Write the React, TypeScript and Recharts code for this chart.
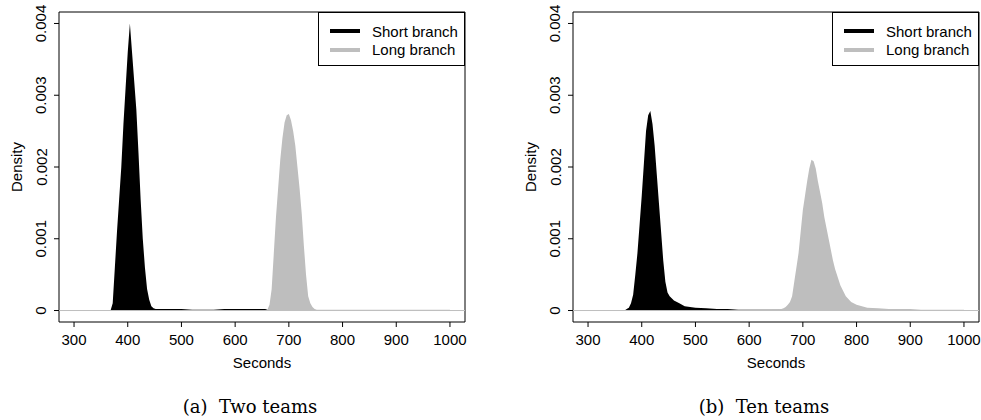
import React from 'react';
import { AreaChart, Area, XAxis, YAxis, ReferenceLine, ReferenceArea } from 'recharts';

// x grid (seconds), denser where the peaks are
const seconds = [
  368, 372, 376, 380, 384, 388, 392, 396, 400, 404, 408, 412, 416, 420, 424, 428, 432, 436, 440, 444, 448, 452,
  460, 470, 480,
  500, 520, 540, 560, 580, 600, 620, 640,
  656,
  660, 664, 668, 672, 676, 680, 684, 688, 692, 696, 700, 704, 708, 712, 716, 720, 724, 728, 732, 736, 740, 744, 748, 752, 756, 760,
  770, 780, 790, 800,
  820, 840, 860, 880, 900, 920, 940, 960, 980, 1000,
];

const twoTeamsShort = [
  0, 0.0001, 0.0006, 0.0011, 0.00155, 0.002, 0.0026, 0.0031, 0.0036, 0.004, 0.0036, 0.0032, 0.0028, 0.0022, 0.00155, 0.001, 0.0006, 0.0003, 0.00015, 0.00006, 0.00003, 0.00002,
  0.00002, 0.00002, 0.00002,
  0.00002, 0.00001, 0.00001, 0.00001, 0.00002, 0.00002, 0.00002, 0.00002,
  0.00002,
  0.00001, 0, 0, 0, 0, 0, 0, 0, 0, 0, 0, 0, 0, 0, 0, 0, 0, 0, 0, 0, 0, 0, 0, 0, 0, 0,
  0, 0, 0, 0,
  0, 0, 0, 0, 0, 0, 0, 0, 0, 0,
];

const twoTeamsLong = [
  0, 0, 0, 0, 0, 0, 0, 0, 0, 0, 0, 0, 0, 0, 0, 0, 0, 0, 0, 0, 0, 0,
  0, 0, 0,
  0, 0, 0, 0, 0, 0, 0, 0,
  0,
  0.00001, 0.00008, 0.0003, 0.0008, 0.0013, 0.0017, 0.0021, 0.0024, 0.00262, 0.00272, 0.00274, 0.00265, 0.0025, 0.0023, 0.002, 0.0017, 0.00135, 0.0009, 0.0005, 0.0002, 0.0001, 0.00005, 0.00002, 0.00001, 0.00001, 0.00001,
  0.00001, 0.00001, 0.00001, 0.00001,
  0.00001, 0.00001, 0.00001, 0.00001, 0.00001, 0.00001, 0.00001, 0.00001, 0.00001, 0.00001,
];

const tenTeamsShort = [
  0, 0.00002, 0.00004, 0.0001, 0.00022, 0.0005, 0.0008, 0.0012, 0.0016, 0.00205, 0.0025, 0.00272, 0.00278, 0.0026, 0.0023, 0.0019, 0.0015, 0.0011, 0.0007, 0.0004, 0.00025, 0.0002,
  0.00014, 0.0001, 0.00006,
  0.00004, 0.00003, 0.00002, 0.00002, 0.00001, 0.00001, 0.00001, 0.00001,
  0.00001,
  0.00001, 0, 0, 0, 0, 0, 0, 0, 0, 0, 0, 0, 0, 0, 0, 0, 0, 0, 0, 0, 0, 0, 0, 0, 0, 0,
  0, 0, 0, 0,
  0, 0, 0, 0, 0, 0, 0, 0, 0, 0,
];

const tenTeamsLong = [
  0, 0, 0, 0, 0, 0, 0, 0, 0, 0, 0, 0, 0, 0, 0, 0, 0, 0, 0, 0, 0, 0,
  0, 0, 0,
  0, 0, 0, 0, 0.00001, 0.00001, 0.00001, 0.00001,
  0.00002,
  0.00002, 0.00003, 0.00005, 0.00008, 0.00012, 0.0002, 0.0004, 0.0006, 0.0008, 0.0011, 0.0014, 0.0016, 0.0018, 0.00198, 0.0021, 0.00208, 0.00198, 0.0018, 0.00165, 0.0015, 0.0013, 0.00115, 0.001, 0.00085, 0.0007, 0.00058,
  0.00035, 0.0002, 0.00012, 0.00008,
  0.00004, 0.00003, 0.00002, 0.00002, 0.00002, 0.00001, 0.00001, 0.00001, 0.00001, 0.00001,
];

const xTicks = [300, 400, 500, 600, 700, 800, 900, 1000];
const yTicks = [0, 0.001, 0.002, 0.003, 0.004];
const seriesNames = ['Short branch', 'Long branch'];
const seriesColors = ['#000000', '#bebebe'];
const captions = ['(a)\u00a0\u00a0Two teams', '(b)\u00a0\u00a0Ten teams'];

const X_DOMAIN: [number, number] = [272, 1028];
const Y_DOMAIN: [number, number] = [-0.00016, 0.00416];
const SANS = '"Liberation Sans", Arial, Helvetica, sans-serif';

const YTick = ({ y, payload }: any) => (
  <text
    x={41}
    y={y}
    transform={`rotate(-90 41 ${y})`}
    textAnchor="middle"
    dominantBaseline="central"
    fontSize={15}
    fontFamily={SANS}
    fill="#000"
  >
    {payload.value === 0 ? '0' : payload.value.toFixed(3)}
  </text>
);

const XTick = ({ x, payload }: any) => (
  <text x={x} y={339} textAnchor="middle" dominantBaseline="central" fontSize={15} fontFamily={SANS} fill="#000">
    {payload.value}
  </text>
);

const Panel = ({ left, short, long, caption }: { left: number; short: number[]; long: number[]; caption: string }) => {
  const data = seconds.map((s, i) => ({ s, short: short[i], long: long[i] }));
  return (
    <div style={{ position: 'absolute', left, top: 0, width: 467, height: 420 }}>
      <AreaChart width={467} height={420} data={data} margin={{ top: 12, right: 2, bottom: 0, left: 0 }}>
        <XAxis
          dataKey="s"
          type="number"
          domain={X_DOMAIN}
          allowDataOverflow
          ticks={xTicks}
          height={98}
          axisLine={false}
          tickSize={5}
          tickLine={{ stroke: '#000' }}
          tick={<XTick />}
          interval={0}
        />
        <YAxis
          type="number"
          domain={Y_DOMAIN}
          allowDataOverflow
          ticks={yTicks}
          width={59}
          axisLine={false}
          tickSize={5}
          tickLine={{ stroke: '#000' }}
          tick={<YTick />}
          interval={0}
        />
        <ReferenceLine y={0} stroke="#bebebe" strokeWidth={1} />
        <Area
          type="linear"
          dataKey="short"
          name={seriesNames[0]}
          fill={seriesColors[0]}
          fillOpacity={1}
          stroke="none"
          dot={false}
          activeDot={false}
          isAnimationActive={false}
        />
        <Area
          type="linear"
          dataKey="long"
          name={seriesNames[1]}
          fill={seriesColors[1]}
          fillOpacity={1}
          stroke="none"
          dot={false}
          activeDot={false}
          isAnimationActive={false}
        />
        <ReferenceArea
          x1={X_DOMAIN[0]}
          x2={X_DOMAIN[1]}
          y1={Y_DOMAIN[0]}
          y2={Y_DOMAIN[1]}
          fill="none"
          stroke="#000"
          strokeWidth={1}
          fillOpacity={0}
        />
      </AreaChart>

      {/* legend, top-right corner of the box */}
      <div
        style={{
          position: 'absolute',
          left: 318,
          top: 12,
          width: 147,
          height: 54,
          boxSizing: 'border-box',
          border: '1px solid #000',
          background: '#fff',
          fontFamily: SANS,
          fontSize: 15,
        }}
      >
        {seriesNames.map((name, i) => (
          <div key={name} style={{ position: 'absolute', left: 11, top: 9 + i * 18.5, height: 18, display: 'flex', alignItems: 'center' }}>
            <span style={{ display: 'inline-block', width: 30, height: 4, background: seriesColors[i] }} />
            <span style={{ marginLeft: 12, color: '#000', whiteSpace: 'nowrap' }}>{name}</span>
          </div>
        ))}
      </div>

      <div
        style={{
          position: 'absolute',
          left: 16.7 - 40,
          top: 167 - 10,
          width: 80,
          height: 20,
          lineHeight: '20px',
          textAlign: 'center',
          transform: 'rotate(-90deg)',
          fontFamily: SANS,
          fontSize: 15,
        }}
      >
        Density
      </div>
      <div
        style={{
          position: 'absolute',
          left: 262 - 60,
          top: 363 - 10,
          width: 120,
          height: 20,
          lineHeight: '20px',
          textAlign: 'center',
          fontFamily: SANS,
          fontSize: 15,
        }}
      >
        Seconds
      </div>
      <div
        style={{
          position: 'absolute',
          left: 250 - 100,
          top: 407 - 12,
          width: 200,
          height: 24,
          lineHeight: '24px',
          textAlign: 'center',
          fontFamily: '"DejaVu Serif", "Liberation Serif", serif',
          fontSize: 18,
          whiteSpace: 'nowrap',
        }}
      >
        {caption}
      </div>
    </div>
  );
};

export default function App() {
  return (
    <div style={{ position: 'absolute', left: 0, top: 0, width: 981, height: 420, background: '#fff', overflow: 'hidden' }}>
      <Panel left={0} short={twoTeamsShort} long={twoTeamsLong} caption={captions[0]} />
      <Panel left={514} short={tenTeamsShort} long={tenTeamsLong} caption={captions[1]} />
    </div>
  );
}
